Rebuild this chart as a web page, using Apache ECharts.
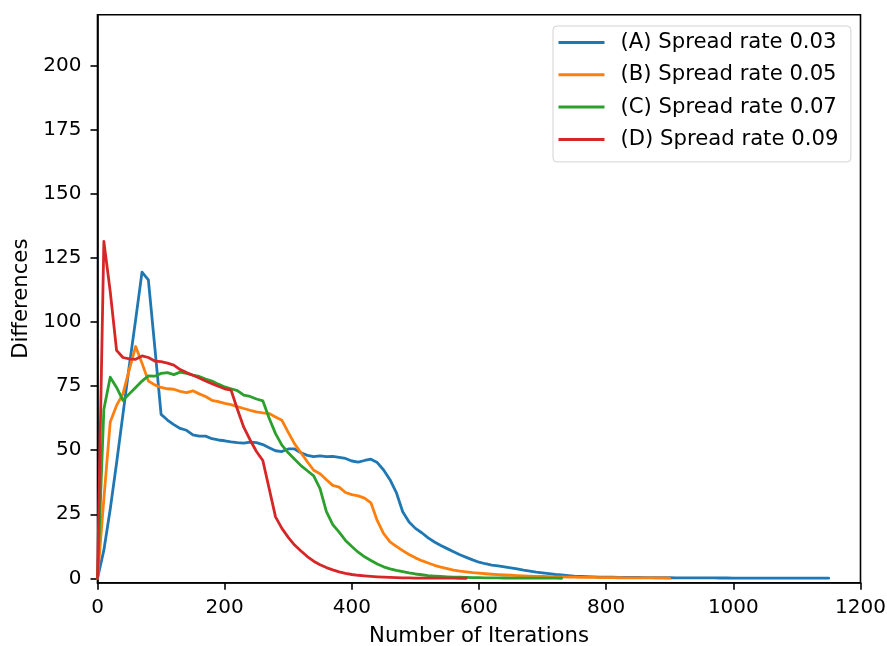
<!DOCTYPE html>
<html>
<head>
<meta charset="utf-8">
<script src="https://cdn.jsdelivr.net/npm/echarts@6/dist/echarts.min.js"></script>
<style>
html,body{margin:0;padding:0;background:#fff;}
#chart{width:887px;height:646px;}
</style>
</head>
<body>
<div id="chart"></div>
<script>
// Iterations are sampled every 10 steps starting at 0
const ITER_STEP = 10;
const seriesNames = [
  '(A) Spread rate 0.03',
  '(B) Spread rate 0.05',
  '(C) Spread rate 0.07',
  '(D) Spread rate 0.09'
];
const yTicks = [0, 25, 50, 75, 100, 125, 150, 175, 200];
const xTicks = [0, 200, 400, 600, 800, 1000, 1200];

const diffA = [
  0, 11, 27, 45, 64, 83, 101, 119.5, 116.5, 90.5,
  64, 61.8, 60, 58.5, 57.8, 56, 55.5, 55.5, 54.5, 54,
  53.7, 53.3, 53, 52.8, 53.2, 53, 52.2, 51, 49.8, 49.5,
  50.5, 50.5, 49, 48, 47.5, 47.8, 47.5, 47.6, 47.2, 46.8,
  45.8, 45.4, 46, 46.5, 45.2, 42.3, 38.5, 33.5, 26, 22,
  19.5, 17.8, 15.8, 14.2, 12.8, 11.6, 10.4, 9.2, 8.2, 7.2,
  6.3, 5.7, 5.2, 4.9, 4.5, 4.1, 3.7, 3.2, 2.8, 2.4,
  2.1, 1.8, 1.5, 1.3, 1.1, 0.9, 0.8, 0.65, 0.55, 0.5,
  0.45, 0.42, 0.4, 0.37, 0.35, 0.33, 0.3, 0.28, 0.27, 0.25,
  0.23, 0.22, 0.2, 0.19, 0.18, 0.17, 0.16, 0.15, 0.14, 0.13,
  0.12, 0.12, 0.11, 0.1, 0.1, 0.09, 0.09, 0.08, 0.08, 0.07,
  0.07, 0.07, 0.06, 0.06, 0.06, 0.05
];
const diffB = [
  0, 31, 61, 67.5, 72, 81.5, 90.5, 84, 77, 75.5,
  74.5, 74, 73.8, 73, 72.5, 73.2, 72, 71, 69.5, 69,
  68.3, 67.8, 67, 66.3, 65.6, 65, 64.6, 64.3, 63, 61.7,
  57, 52.5, 49, 45.5, 42.2, 40.8, 38.5, 36.3, 35.6, 33.5,
  32.7, 32.2, 31.3, 29.5, 22.5, 17.5, 14.2, 12.5, 10.8, 9.3,
  8, 6.9, 6, 5.1, 4.4, 3.8, 3.2, 2.8, 2.5, 2.2,
  2, 1.8, 1.6, 1.45, 1.3, 1.2, 1.1, 1, 0.9, 0.8,
  0.72, 0.65, 0.6, 0.55, 0.5, 0.45, 0.4, 0.37, 0.34, 0.31,
  0.28, 0.26, 0.24, 0.22, 0.2, 0.18, 0.16, 0.15, 0.14, 0.13,
  0.12
];
const diffC = [
  0, 66, 78.5, 74.5, 69.5, 72, 74.5, 77, 79, 78.9,
  80, 80.3, 79.5, 80.5, 80, 79.3, 78.8, 77.8, 77, 75.8,
  74.7, 74, 73.3, 71.5, 71, 70, 69.3, 62.5, 56.5, 52,
  49, 46.5, 44, 42, 40, 35, 26, 21, 18, 14.8,
  12.4, 10.2, 8.4, 7, 5.6, 4.5, 3.7, 3.1, 2.6, 2.1,
  1.7, 1.4, 1.1, 0.9, 0.75, 0.6, 0.5, 0.42, 0.36, 0.3,
  0.26, 0.22, 0.19, 0.16, 0.14, 0.12, 0.1, 0.09, 0.08, 0.07,
  0.06, 0.05, 0.05, 0.04
];
const diffD = [
  0, 131.5, 112, 89, 86.2, 85.7, 85.5, 86.8, 86.2, 84.8,
  84.6, 84, 83.2, 81.5, 80.3, 79.3, 78.2, 77, 76, 75,
  74, 73.5, 66, 59, 54, 49.5, 46, 35, 24, 19.5,
  16, 13, 10.7, 8.5, 6.7, 5.3, 4.2, 3.3, 2.5, 1.9,
  1.5, 1.2, 1, 0.8, 0.6, 0.45, 0.35, 0.27, 0.2, 0.15,
  0.1, 0.09, 0.08, 0.07, 0.06, 0.05, 0.05, 0.04, 0.04
];

const colors = ['#1f77b4', '#ff7f0e', '#2ca02c', '#d62728'];
const allData = [diffA, diffB, diffC, diffD];

function toPairs(arr) {
  return arr.map((v, i) => [i * ITER_STEP, v]);
}

const FONT = 'DejaVu Sans';
const chart = echarts.init(document.getElementById('chart'), null, {renderer: 'canvas'});
chart.setOption({
  animation: false,
  backgroundColor: '#fff',
  textStyle: {fontFamily: FONT},
  grid: {
    left: 97.5, right: 26.5, top: 14.7, bottom: 63.3,
    containLabel: false, outerBoundsMode: 'none',
    show: true, borderColor: '#000', borderWidth: 1.6, backgroundColor: 'transparent'
  },
  legend: {
    orient: 'vertical',
    left: 553, top: 26,
    padding: [6, 12.5, 12, 5.5],
    itemGap: 11.3,
    itemWidth: 46, itemHeight: 3,
    icon: 'rect',
    backgroundColor: 'rgba(255,255,255,0.8)',
    borderColor: '#d3d3d3', borderWidth: 1, borderRadius: 4,
    textStyle: {fontFamily: FONT, fontSize: 21.2, color: '#000', padding: [0, 0, 0, 11]},
    data: seriesNames
  },
  xAxis: {
    type: 'value', min: 0, max: 1200,
    name: 'Number of Iterations', nameLocation: 'middle', nameGap: 43,
    nameTextStyle: {fontFamily: FONT, fontSize: 21.2, color: '#000'},
    axisLine: {show: true, onZero: false, lineStyle: {color: '#000', width: 1.6}},
    axisTick: {show: true, inside: false, length: 7, lineStyle: {color: '#000', width: 1.6}, customValues: xTicks},
    axisLabel: {fontFamily: FONT, fontSize: 20, color: '#000', margin: 15, customValues: xTicks,
      formatter: v => String(v)},
    splitLine: {show: false}
  },
  yAxis: {
    type: 'value', min: -1.7, max: 220,
    name: 'Differences', nameLocation: 'middle', nameGap: 66, nameRotate: 90,
    nameTextStyle: {fontFamily: FONT, fontSize: 21.2, color: '#000'},
    axisLine: {show: true, onZero: false, lineStyle: {color: '#000', width: 1.6}},
    axisTick: {show: true, inside: false, length: 7, lineStyle: {color: '#000', width: 1.6}, customValues: yTicks},
    axisLabel: {fontFamily: FONT, fontSize: 20, color: '#000', margin: 16, customValues: yTicks,
      formatter: v => String(v)},
    splitLine: {show: false}
  },
  series: allData.map((d, k) => ({
    name: seriesNames[k],
    type: 'line',
    data: toPairs(d),
    symbol: 'none',
    color: colors[k],
    lineStyle: {width: 2.8, color: colors[k], join: 'round', cap: 'round'},
    z: 2 + k
  }))
});
</script>
</body>
</html>
